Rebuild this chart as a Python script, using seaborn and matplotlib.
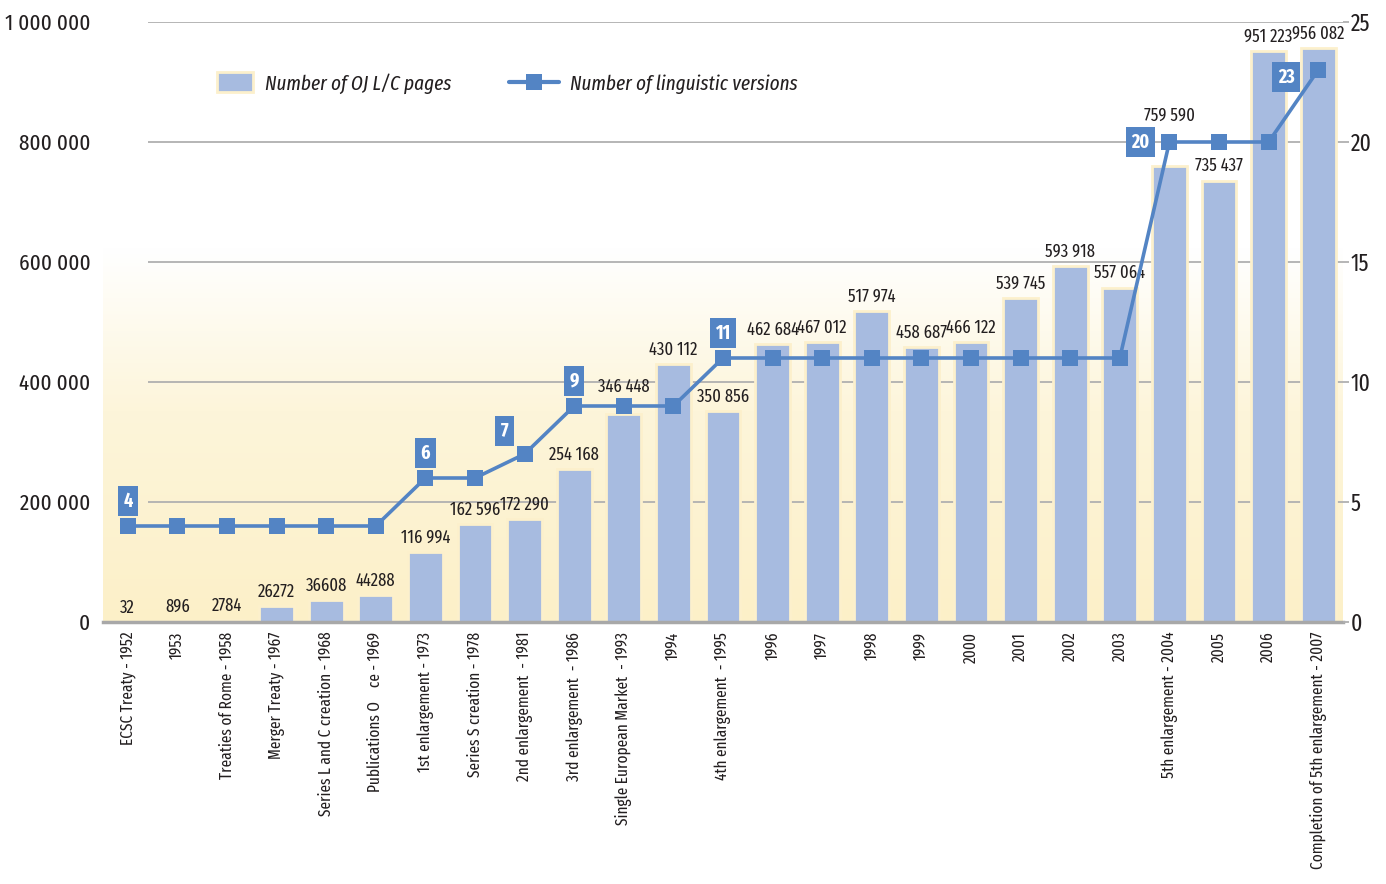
import numpy as np
import pandas as pd
import matplotlib.pyplot as plt
import seaborn as sns
from matplotlib.patches import Patch
from matplotlib.lines import Line2D
from matplotlib.colors import LinearSegmentedColormap

## data
categories = [
    'ECSC Treaty - 1952', '1953', 'Treaties of Rome - 1958', 'Merger Treaty - 1967',
    'Series L and C creation - 1968', 'Publications O    ce - 1969', '1st enlargement - 1973',
    'Series S creation - 1978', '2nd enlargement  - 1981', '3rd enlargement  - 1986',
    'Single European Market  - 1993', '1994', '4th enlargement  - 1995', '1996', '1997',
    '1998', '1999', '2000', '2001', '2002', '2003', '5th enlargement - 2004', '2005', '2006',
    'Completion of 5th enlargement - 2007',
]
pages = [32, 896, 2784, 26272, 36608, 44288, 116994, 162596, 172290, 254168, 346448,
         430112, 350856, 462684, 467012, 517974, 458687, 466122, 539745, 593918, 557064,
         759590, 735437, 951223, 956082]
page_labels = ['32', '896', '2784', '26272', '36608', '44288', '116 994', '162 596',
               '172 290', '254 168', '346 448', '430 112', '350 856', '462 684', '467 012',
               '517 974', '458 687', '466 122', '539 745', '593 918', '557 064', '759 590',
               '735 437', '951 223', '956 082']
versions = [4, 4, 4, 4, 4, 4, 6, 6, 7, 9, 9, 9, 11, 11, 11, 11, 11, 11, 11, 11, 11,
            20, 20, 20, 23]
tagged = [0, 6, 8, 9, 12, 21, 24]   # points that get a blue number box
left_ticks = [0, 200000, 400000, 600000, 800000, 1000000]
right_ticks = [0, 5, 10, 15, 20, 25]

bar_color = '#a7bbe0'
bar_edge = '#fcf0cc'
line_color = '#5384c4'
text_color = '#231f20'
grid_color = '#b0b0b0'

sns.set_style('white')
plt.rcParams['font.family'] = ['Fira Sans Extra Condensed', 'DejaVu Sans']
plt.rcParams['text.color'] = text_color

df = pd.DataFrame({'event': categories, 'pages': pages, 'versions': versions})

fig = plt.figure(figsize=(13.86, 8.84), dpi=100)
ax = fig.add_axes([103 / 1386, 262 / 884, 1240 / 1386, 600 / 884])

# soft yellow background fading to white
grad = np.linspace(0, 1, 256).reshape(-1, 1)
bg = LinearSegmentedColormap.from_list('bg', [(0, '#fcf0c8'), (0.35, '#fdf5da'),
                                             (0.62, '#ffffff'), (1, '#ffffff')])
ax.imshow(grad, cmap=bg, extent=(0, 1, 0, 1), transform=ax.transAxes, origin='lower',
          aspect='auto', zorder=0)

ax.hlines(left_ticks[1:], 0.41, 24.5, color=grid_color, lw=1.3, zorder=1)

sns.barplot(data=df, x='event', y='pages', color=bar_color, saturation=1, width=0.7,
            edgecolor=bar_edge, linewidth=2, ax=ax, zorder=2)
labels = ax.bar_label(ax.containers[0], labels=page_labels, padding=4, fontsize=13,
                      color=text_color)
labels[21].xyann = (0, 30)   # lifted above the "20" box
labels[10].xyann = (0, 13)   # clear of the line marker

ax.set_ylim(0, 1000000)
ax.set_yticks(left_ticks)
ax.set_yticklabels([f'{v:,}'.replace(',', ' ') for v in left_ticks])
ax.tick_params(axis='y', length=0, pad=9, labelsize=16.5, labelcolor=text_color)
ax.tick_params(axis='x', which='major', length=0, pad=7, labelsize=12,
               labelcolor=text_color, labelrotation=90)
ax.set_xticks(np.arange(-0.5, len(categories), 1), minor=True)
ax.tick_params(axis='x', which='minor', direction='in', length=9, width=1.5, color=grid_color)
ax.set_xlabel('')
ax.set_ylabel('')
for s in ['left', 'right', 'top']:
    ax.spines[s].set_visible(False)
ax.spines['bottom'].set_color('#a8a8a8')
ax.spines['bottom'].set_linewidth(2.5)

##line on the secondary axis
ax2 = ax.twinx()
sns.pointplot(data=df, x='event', y='versions', color=line_color, marker='s',
              markersize=12, markeredgewidth=0, linewidth=2.6, errorbar=None, ax=ax2)
ax2.set_ylim(0, 25)
ax2.set_yticks(right_ticks)
ax2.tick_params(axis='y', length=4, width=1.3, color=grid_color, pad=1.5, labelsize=17,
                labelcolor=text_color)
ax2.set_xlabel('')
ax2.set_ylabel('')
for s in ax2.spines.values():
    s.set_visible(False)
ax.set_xlim(-0.5, len(categories) - 0.5)

offsets = {0: (0, 25), 6: (0, 25), 8: (-20, 23), 9: (0, 25), 12: (0, 25),
           21: (-29, 0), 24: (-32, -7)}
for i in tagged:
    ax2.annotate(str(versions[i]), xy=(i, versions[i]), xytext=offsets[i],
                 textcoords='offset pixels', ha='center', va='center', color='white',
                 fontsize=14, fontweight='bold', zorder=5,
                 bbox=dict(boxstyle='square,pad=0.28', fc=line_color, ec='none'))

##legend
fig.legend(handles=[Patch(fc=bar_color, ec=bar_edge, lw=2)],
           labels=['Number of OJ L/C pages'], loc='center left',
           bbox_to_anchor=(207 / 1386, 1 - 83 / 884), frameon=False, borderpad=0,
           handlelength=1.7, handleheight=1.1, handletextpad=0.6,
           prop=dict(style='italic', size=15))
fig.legend(handles=[Line2D([], [], color=line_color, lw=3, marker='s', markersize=12,
                           markeredgewidth=0)],
           labels=['Number of linguistic versions'], loc='center left',
           bbox_to_anchor=(499 / 1386, 1 - 84 / 884), frameon=False, borderpad=0,
           handlelength=2.4, handletextpad=0.5, prop=dict(style='italic', size=15))

fig.savefig('out.png', dpi=100)
